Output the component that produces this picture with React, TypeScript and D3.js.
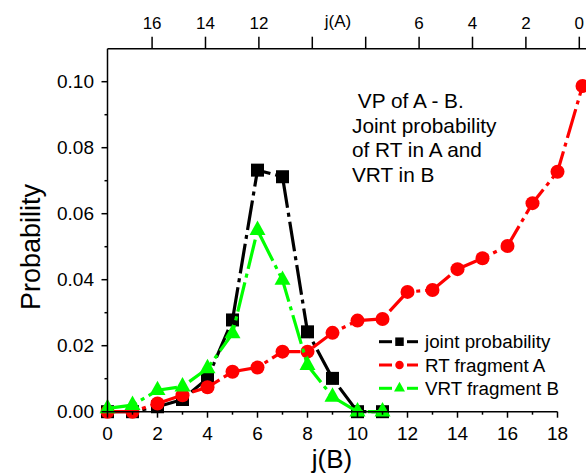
import React from "react";
import * as d3 from "d3";

// Site index j(B) along the bottom axis
const jB = [0, 1, 2, 3, 4, 5, 6, 7, 8, 9, 10, 11, 12, 13, 14, 15, 16, 17, 18, 19];

// Probability series
const jointProb = [0, 0, 0.0015, 0.0037, 0.0101, 0.0278, 0.0732, 0.0712, 0.0242, 0.0101, 0, 0];
const rtFragmentA = [0, 0, 0.0025, 0.005, 0.0074, 0.0121, 0.0134, 0.0182, 0.0182, 0.0239, 0.0276, 0.0281,
  0.0363, 0.0369, 0.0432, 0.0465, 0.0502, 0.0632, 0.0727, 0.0987];
const vrtFragmentB = [0.001, 0.002, 0.0065, 0.0076, 0.0131, 0.0237, 0.055, 0.0399, 0.0141, 0.0045, 0, 0];

// Axis ticks
const bottomMajor = [0, 2, 4, 6, 8, 10, 12, 14, 16, 18];
const bottomMinor = [1, 3, 5, 7, 9, 11, 13, 15, 17];
const leftMajor = [0, 0.02, 0.04, 0.06, 0.08, 0.1];
const leftMinor = [0.01, 0.03, 0.05, 0.07, 0.09];
const topTicks = [16, 14, 12, 10, 8, 6, 4, 2, 0];
const topLabels = ["16", "14", "12", "", "", "6", "4", "2", "0"];

const legendItems = ["joint probability", "RT fragment A", "VRT fragment B"];
const noteLines = [" VP of A - B.", "Joint probability", "of RT in A and", "VRT in B"];

const W = 586;
const H = 473;
const FONT = "'Liberation Sans', Arial, Helvetica, sans-serif";

const x = d3.scaleLinear().domain([0, 19]).range([107.5, 582.5]);
const xTop = d3.scaleLinear().domain([17.67, -0.12]).range([107.5, 582.5]);
const y = d3.scaleLinear().domain([0, 0.11]).range([411.7, 48.7]);

const dash = "30 5 4 5";

type Kind = "square" | "circle" | "triangle";

function Marker({ kind, cx, cy, size, color }: { kind: Kind; cx: number; cy: number; size: number; color: string }) {
  if (kind === "square") {
    return <rect x={cx - size / 2} y={cy - size / 2} width={size} height={size} fill={color} />;
  }
  if (kind === "circle") {
    return <circle cx={cx} cy={cy} r={size / 2} fill={color} />;
  }
  const h = size * 0.9;
  const pts = [
    [cx, cy - (2 * h) / 3],
    [cx - size / 2, cy + h / 3],
    [cx + size / 2, cy + h / 3],
  ];
  return <polygon points={pts.map((p) => p.join(",")).join(" ")} fill={color} />;
}

const seriesList: { values: number[]; color: string; kind: Kind; size: number }[] = [
  { values: jointProb, color: "#000000", kind: "square", size: 13 },
  { values: rtFragmentA, color: "#ff0000", kind: "circle", size: 14 },
  { values: vrtFragmentB, color: "#00ff00", kind: "triangle", size: 16 },
];

export default function App() {
  const line = d3
    .line<number>()
    .x((_, i) => x(jB[i]))
    .y((v) => y(v));

  return (
    <svg width={W} height={H} style={{ position: "absolute", left: 0, top: 0, background: "#fff" }} fontFamily={FONT}>
      <rect width={W} height={H} fill="#fff" />

      {/* series */}
      {seriesList.map((s, si) => (
        <g key={si}>
          <path d={line(s.values) || ""} fill="none" stroke={s.color} strokeWidth={3.2} strokeDasharray={dash} />
          {s.values.map((v, i) => (
            <Marker key={i} kind={s.kind} cx={x(jB[i])} cy={y(v)} size={s.size} color={s.color} />
          ))}
        </g>
      ))}

      {/* axes */}
      <g stroke="#000" strokeWidth={1.5} fill="none">
        <line x1={x(0)} x2={x(0)} y1={y(0.11)} y2={y(0)} />
        <line x1={x(0)} x2={x(18)} y1={y(0)} y2={y(0)} />
        <line x1={x(0)} x2={W} y1={y(0.11)} y2={y(0.11)} />
        {bottomMajor.map((t) => (
          <line key={"bM" + t} x1={x(t)} x2={x(t)} y1={y(0)} y2={y(0) + 6} />
        ))}
        {bottomMinor.map((t) => (
          <line key={"bm" + t} x1={x(t)} x2={x(t)} y1={y(0)} y2={y(0) + 3} />
        ))}
        {leftMajor.map((t) => (
          <line key={"lM" + t} x1={x(0) - 6} x2={x(0)} y1={y(t)} y2={y(t)} />
        ))}
        {leftMinor.map((t) => (
          <line key={"lm" + t} x1={x(0) - 3} x2={x(0)} y1={y(t)} y2={y(t)} />
        ))}
        {topTicks.map((t) => (
          <line key={"t" + t} x1={xTop(t)} x2={xTop(t)} y1={y(0.11)} y2={y(0.11) - 12} />
        ))}
      </g>

      {/* tick labels */}
      <g fontSize={19} fill="#000">
        {bottomMajor.map((t) => (
          <text key={"bl" + t} x={x(t)} y={440} textAnchor="middle">
            {t}
          </text>
        ))}
        {leftMajor.map((t) => (
          <text key={"ll" + t} x={94} y={y(t) + 6.7} textAnchor="end">
            {d3.format(".2f")(t)}
          </text>
        ))}
      </g>
      <g fontSize={17} fill="#000">
        {topTicks.map((t, i) =>
          topLabels[i] ? (
            <text key={"tl" + t} x={xTop(t)} y={28.5} textAnchor="middle">
              {topLabels[i]}
            </text>
          ) : null
        )}
        <text x={338} y={26.7} textAnchor="middle">
          j(A)
        </text>
      </g>

      {/* axis titles */}
      <text x={332} y={468.3} textAnchor="middle" fontSize={26}>
        j(B)
      </text>
      <text transform="translate(40,247) rotate(-90)" textAnchor="middle" fontSize={27}>
        Probability
      </text>

      {/* annotation */}
      <g fontSize={20.8} fill="#000">
        {noteLines.map((l, i) => (
          <text key={i} x={352} y={108.3 + i * 24.5} style={{ whiteSpace: "pre" }}>
            {l}
          </text>
        ))}
      </g>

      {/* legend */}
      <g>
        {legendItems.map((label, i) => {
          const s = seriesList[i];
          const cy = 341.7 + i * 23.3;
          return (
            <g key={label}>
              <line x1={379} x2={392} y1={cy} y2={cy} stroke={s.color} strokeWidth={3} />
              <line x1={407} x2={418} y1={cy} y2={cy} stroke={s.color} strokeWidth={3} />
              <Marker kind={s.kind} cx={399.5} cy={cy} size={s.kind === "triangle" ? 11 : 8.5} color={s.color} />
              <text x={425} y={cy + 6.5} fontSize={18.8}>
                {label}
              </text>
            </g>
          );
        })}
      </g>
    </svg>
  );
}
